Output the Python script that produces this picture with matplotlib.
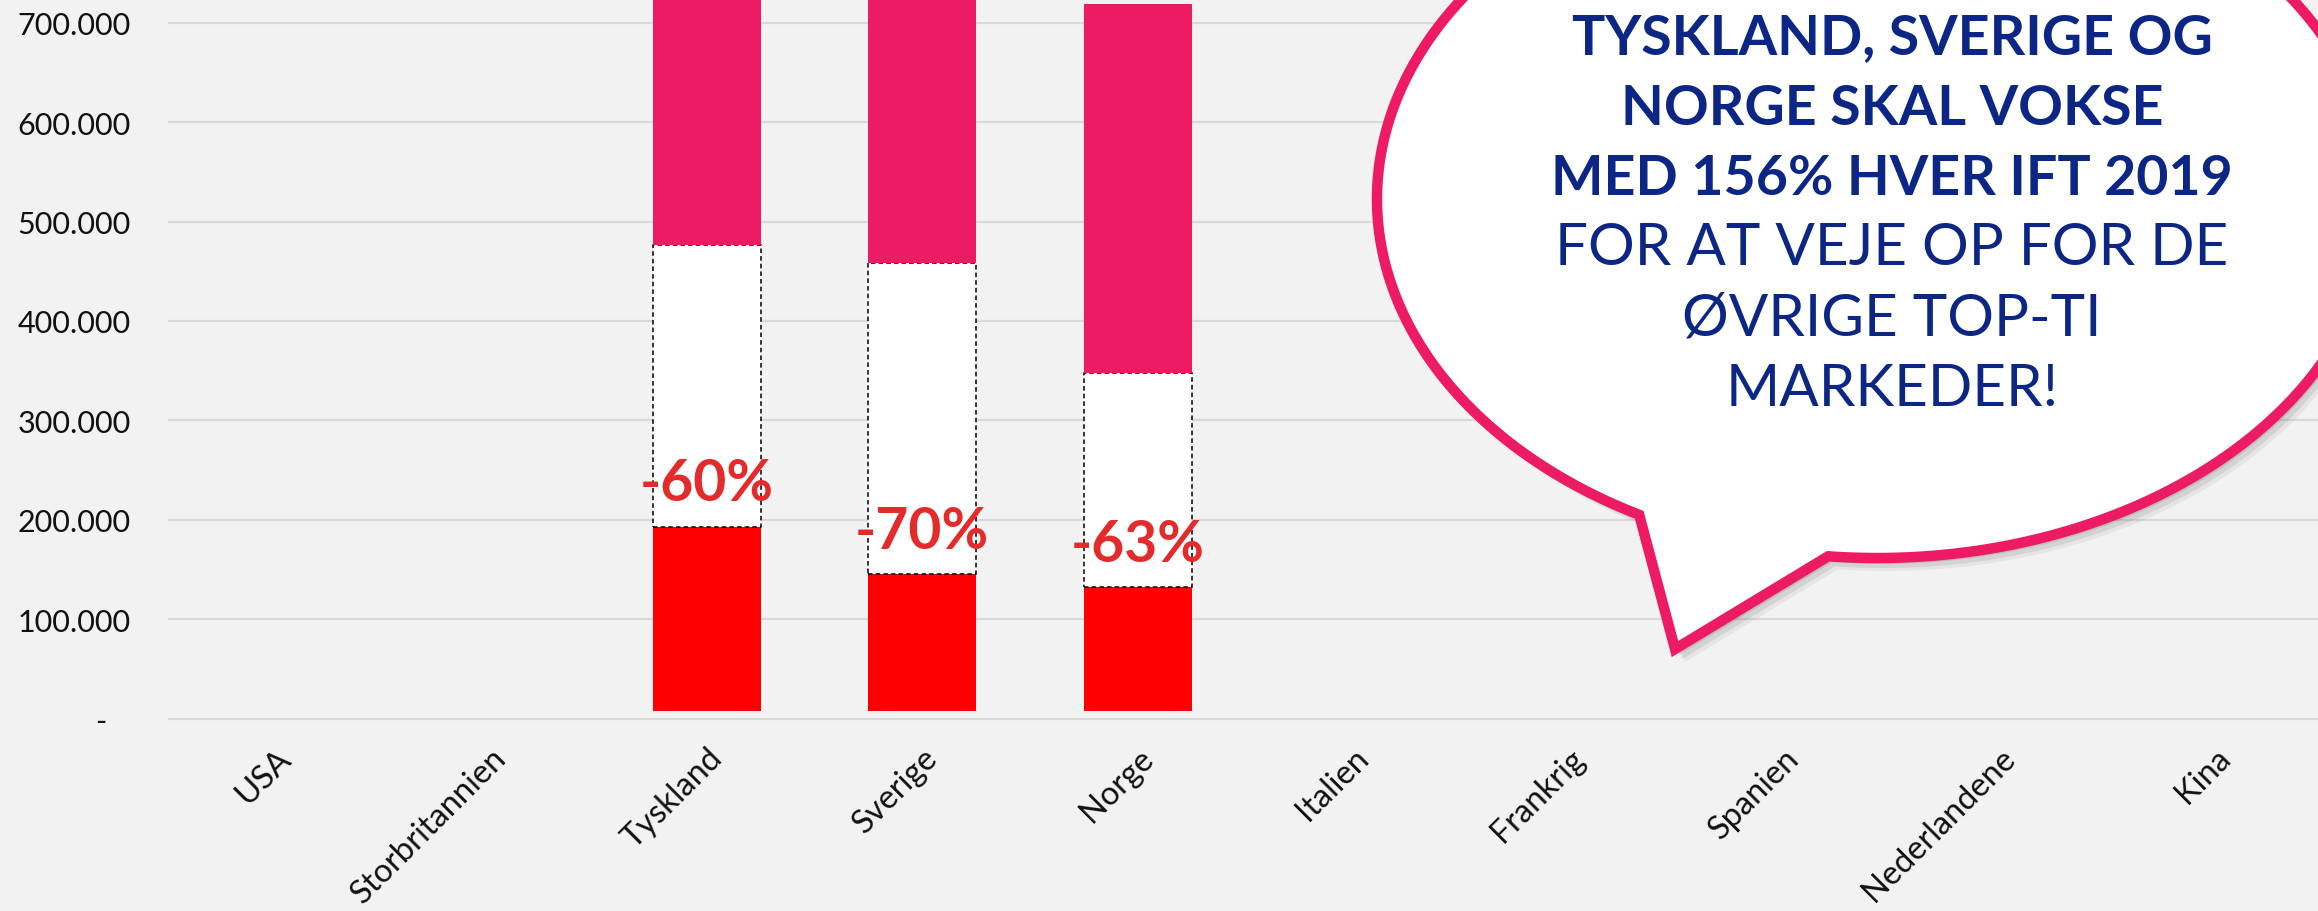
import numpy as np
import matplotlib
matplotlib.use('Agg')
import matplotlib.pyplot as plt
from matplotlib.patches import Polygon

plt.rcParams['font.family'] = ['Lato', 'DejaVu Sans']

categories = ['USA', 'Storbritannien', 'Tyskland', 'Sverige', 'Norge',
              'Italien', 'Frankrig', 'Spanien', 'Nederlandene', 'Kina']
# stacked bar tops (values); small invisible base segment at the bottom
base = [0, 0, 7500, 7500, 7500, 0, 0, 0, 0, 0]
val_2020 = [0, 0, 193000, 145000, 132000, 0, 0, 0, 0, 0]
val_2019 = [0, 0, 476000, 458000, 348000, 0, 0, 0, 0, 0]
target = [0, 0, 1218000, 1172000, 719000, 0, 0, 0, 0, 0]
pct_labels = ['', '', '-60%', '-70%', '-63%', '', '', '', '', '']
yticks = [0, 100000, 200000, 300000, 400000, 500000, 600000, 700000]

bubble_lines = [('TYSKLAND, SVERIGE OG', 'bold'),
                ('NORGE SKAL VOKSE', 'bold'),
                ('MED 156% HVER IFT 2019', 'bold'),
                ('FOR AT VEJE OP FOR DE', 'normal'),
                ('ØVRIGE TOP-TI', 'normal'),
                ('MARKEDER!', 'normal')]

W, H = 2318, 912
bg = '#F2F2F2'
red = '#FF0000'
pink = '#EC1B63'
navy = '#0B2685'

fig = plt.figure(figsize=(W / 100, H / 100), dpi=100, facecolor=bg)
ax = fig.add_axes([168 / W, (H - 722.5) / H, (2323 - 168) / W, 722.5 / H])
ax.set_facecolor(bg)

x = np.arange(len(categories))
b = np.array(base)
r = np.array(val_2020)
w = np.array(val_2019)
t = np.array(target)
m = w > 0

ax.bar(x[m], (r - b)[m], bottom=b[m], width=0.5, color=red, zorder=3)
ax.bar(x[m], (w - r)[m], bottom=r[m], width=0.5, color='white',
       edgecolor='black', linewidth=1.1, linestyle=(0, (3, 2)), zorder=3)
ax.bar(x[m], (t - w)[m], bottom=w[m], width=0.5, color=pink, zorder=3)

for i in x[m]:
    ax.annotate(pct_labels[i], xy=(i, r[i]), xytext=(0, 31),
                textcoords='offset points', ha='center', va='center',
                fontsize=41, fontweight='bold', color='#E42B2B', zorder=5)

ax.set_xlim(-0.5, len(categories) - 0.5)
ax.set_ylim(-3000, 724000)
ax.set_yticks(yticks)
ax.set_yticklabels(['-   ' if v == 0 else f'{v:,.0f}'.replace(',', '.') for v in yticks])
ax.set_xticks(x)
ax.set_xticklabels(categories)
plt.setp(ax.get_xticklabels(), rotation=45, ha='right', rotation_mode='anchor')
ax.tick_params(axis='y', length=0, pad=27, labelsize=22, labelcolor='#111111')
ax.tick_params(axis='x', length=0, pad=15, labelsize=23.5, labelcolor='#111111')
ax.grid(axis='y', color='#D9D9D9', linewidth=1.6, zorder=0)
ax.set_axisbelow(True)
for s in ax.spines.values():
    s.set_visible(False)

# speech bubble overlay, in pixel coordinates
ov = fig.add_axes([0, 0, 1, 1], zorder=10)
ov.set_xlim(0, W)
ov.set_ylim(H, 0)
ov.axis('off')
ov.patch.set_alpha(0)

cx, cy, a, bb = 1877, 200, 500, 359
th = np.radians(np.linspace(118.4, 455.6, 400))
pts = np.column_stack([cx + a * np.cos(th), cy + bb * np.sin(th)])
pts = np.vstack([pts, [[1675, 650]]])

for dx, dy, al in [(10, 13, 0.08), (7, 10, 0.12), (4, 6, 0.16)]:
    ov.add_patch(Polygon(pts + [dx, dy], closed=True, facecolor='#555555',
                         edgecolor='none', alpha=al))
ov.add_patch(Polygon(pts, closed=True, facecolor='white', edgecolor=pink,
                     linewidth=7.5, joinstyle='miter'))

y0 = 54.5
for k, (txt, wt) in enumerate(bubble_lines):
    ov.text(1892, y0 + k * 70.3, txt, ha='center', va='baseline',
            fontsize=40 if wt == 'bold' else 42, fontweight=wt, color=navy)

fig.savefig('out.png', dpi=100, facecolor=bg)
